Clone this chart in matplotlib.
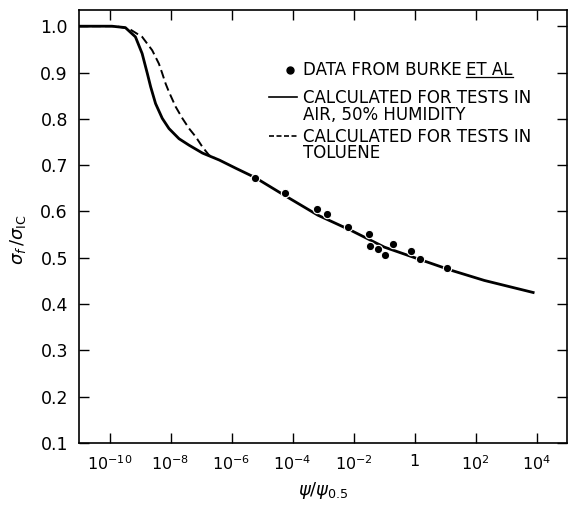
import numpy as np
import matplotlib
matplotlib.use("Agg")
import matplotlib.pyplot as plt

# -----------------------------
# Data
# -----------------------------

# calculated curve, tests in air, 50% humidity (log10 of psi/psi_0.5)
air_logx = [-11.0, -10.3, -9.92, -9.48, -9.15, -8.93, -8.76, -8.65, -8.49,
            -8.27, -8.05, -7.72, -7.39, -6.95, -6.40, -5.85, -5.22, -4.27,
            -3.17, -2.08, -0.99, 0.10, 1.20, 2.29, 3.89]
air_y = [1.0, 1.0, 1.0, 0.997, 0.977, 0.941, 0.898, 0.869, 0.833,
         0.801, 0.779, 0.757, 0.743, 0.726, 0.711, 0.693, 0.673, 0.635,
         0.592, 0.559, 0.523, 0.498, 0.473, 0.451, 0.425]

# calculated curve, tests in toluene
tol_logx = [-11.0, -9.81, -9.37, -8.93, -8.60, -8.38, -8.27, -8.16, -8.05,
            -7.83, -7.61, -7.39, -7.17, -6.95, -6.73, -6.55]
tol_y = [1.0, 1.0, 0.995, 0.977, 0.948, 0.919, 0.898, 0.876, 0.858,
         0.826, 0.801, 0.779, 0.761, 0.739, 0.721, 0.716]

# data from Burke et al
burke_logx = [-5.22, -4.24, -3.20, -2.87, -2.18, -1.49, -1.47, -1.19,
              -0.98, -0.72, -0.13, 0.17, 1.07]
burke_y = [0.673, 0.639, 0.606, 0.594, 0.567, 0.552, 0.525, 0.518,
           0.505, 0.529, 0.514, 0.497, 0.477]

xtick_exp = [-10, -8, -6, -4, -2, 0, 2, 4]
xtick_labels = ["10$^{-10}$", "10$^{-8}$", "10$^{-6}$", "10$^{-4}$",
                "10$^{-2}$", "1", "10$^{2}$", "10$^{4}$"]
yticks = [0.1, 0.2, 0.3, 0.4, 0.5, 0.6, 0.7, 0.8, 0.9, 1.0]

# -----------------------------
# Plot
# -----------------------------

plt.rcParams["font.family"] = "DejaVu Sans"
plt.rcParams["mathtext.fontset"] = "dejavusans"

fig = plt.figure(figsize=(5.73, 5.09), dpi=100)
ax = fig.add_axes([79 / 573, 66 / 509, 488 / 573, 433 / 509])

ax.plot(10 ** np.array(tol_logx), tol_y, color="black", lw=1.4,
        dashes=(4.5, 2.2))
ax.plot(10 ** np.array(air_logx), air_y, color="black", lw=2.0)
ax.plot(10 ** np.array(burke_logx), burke_y, "o", color="black", ms=6,
        mec="white", mew=0.8)

ax.set_xscale("log")
ax.set_xlim(1e-11, 1e5)
ax.set_ylim(0.1, 1.035)

ax.set_xticks([10.0 ** e for e in xtick_exp])
ax.set_xticklabels(xtick_labels)
ax.xaxis.set_minor_locator(matplotlib.ticker.NullLocator())
ax.set_yticks(yticks)
ax.set_yticklabels(["%.1f" % v for v in yticks])

ax.tick_params(direction="in", length=7, width=1.0, top=True, right=True,
               pad=8)
ax.tick_params(axis="y", labelsize=12.5)
ax.tick_params(axis="x", labelsize=11.5)
for s in ax.spines.values():
    s.set_linewidth(1.2)

ax.set_xlabel(r"$\psi/\psi_{0.5}$", fontsize=13, labelpad=5)
ax.set_ylabel(r"$\sigma_f\,/\sigma_{\mathrm{IC}}$", fontsize=13)
ax.yaxis.set_label_coords(-0.105, 0.47)

# -----------------------------
# Legend (drawn by hand)
# -----------------------------

fs = 12
tx = 0.458
ax.plot([0.432], [0.861], "o", color="black", ms=5, transform=ax.transAxes)
ax.plot([0.389, 0.446], [0.798, 0.798], color="black", lw=1.2,
        transform=ax.transAxes)
ax.plot([0.389, 0.446], [0.709, 0.709], color="black", lw=1.2,
        dashes=(3, 1.5), transform=ax.transAxes)

t1 = ax.text(tx, 0.861, "DATA FROM BURKE ", fontsize=fs, va="center",
             transform=ax.transAxes)
ax.text(tx, 0.796, "CALCULATED FOR TESTS IN", fontsize=fs, va="center",
        transform=ax.transAxes)
ax.text(tx, 0.757, "AIR, 50% HUMIDITY", fontsize=fs, va="center",
        transform=ax.transAxes)
ax.text(tx, 0.707, "CALCULATED FOR TESTS IN", fontsize=fs, va="center",
        transform=ax.transAxes)
ax.text(tx, 0.669, "TOLUENE", fontsize=fs, va="center",
        transform=ax.transAxes)

fig.canvas.draw()
renderer = fig.canvas.get_renderer()
bb = t1.get_window_extent(renderer).transformed(ax.transAxes.inverted())
t2 = ax.text(bb.x1, 0.861, "ET AL", fontsize=fs, va="center",
             transform=ax.transAxes)
fig.canvas.draw()
bb2 = t2.get_window_extent(renderer).transformed(ax.transAxes.inverted())
ax.plot([bb2.x0, bb2.x1], [bb2.y0 + 0.004, bb2.y0 + 0.004], color="black",
        lw=0.9, transform=ax.transAxes)

fig.savefig("out.png", dpi=100)
